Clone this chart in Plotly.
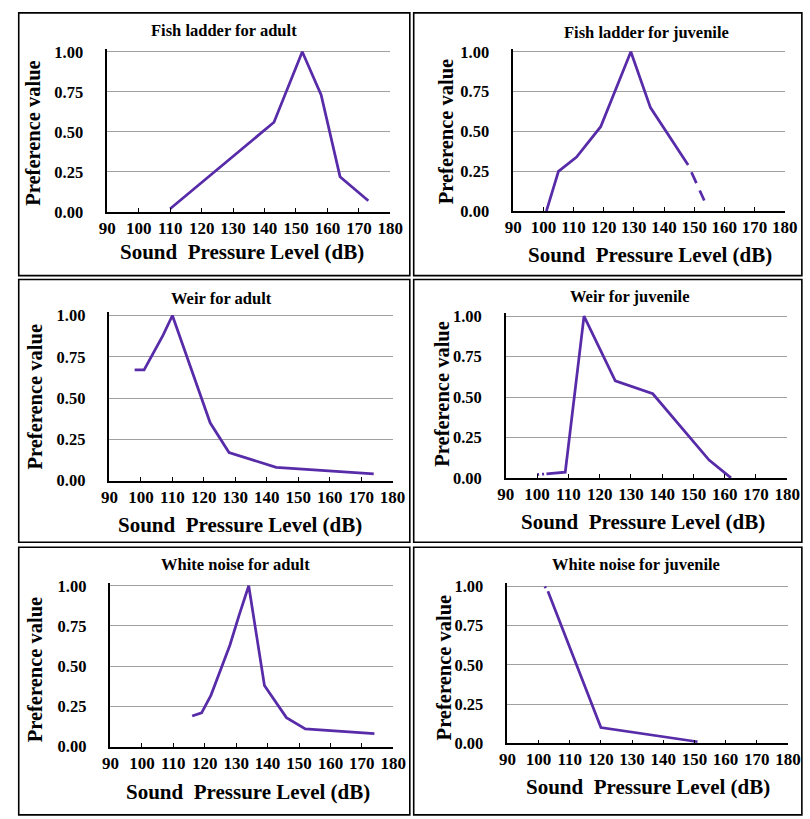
import plotly.graph_objects as go

# ---- data: sound pressure level (dB) vs preference value ----
fl_adult_x = [110, 143, 152, 158, 164, 173]
fl_adult_y = [0.02, 0.56, 1.00, 0.73, 0.22, 0.07]

fl_juv_x = [101, 105, 111, 119, 129, 135.5, 148]
fl_juv_y = [0.00, 0.25, 0.34, 0.53, 1.00, 0.65, 0.29]
fl_juv_dash_x = [148, 154]
fl_juv_dash_y = [0.29, 0.04]

weir_adult_x = [98, 101, 107, 110, 122, 128, 143, 174]
weir_adult_y = [0.67, 0.67, 0.88, 1.00, 0.35, 0.17, 0.08, 0.04]

weir_juv_dot_x = [100, 103]
weir_juv_dot_y = [0.02, 0.025]
weir_juv_x = [103, 109, 115, 125, 137, 155, 162]
weir_juv_y = [0.025, 0.035, 1.00, 0.60, 0.52, 0.11, 0.00]

wn_adult_x = [116, 119, 122, 128, 131, 134, 139, 146, 152, 174]
wn_adult_y = [0.19, 0.21, 0.32, 0.63, 0.82, 1.00, 0.38, 0.18, 0.11, 0.08]

wn_juv_dot_x = [102, 103]
wn_juv_dot_y = [1.00, 0.97]
wn_juv_x = [103, 120, 151]
wn_juv_y = [0.97, 0.10, 0.01]

titles = ["Fish ladder for adult", "Fish ladder for juvenile",
          "Weir for adult", "Weir for juvenile",
          "White noise for adult", "White noise for juvenile"]
x_title = "Sound  Pressure Level (dB)"
y_title = "Preference value"
y_tickvals = [0, 0.25, 0.5, 0.75, 1.0]
y_ticktext = ["0.00", "0.25", "0.50", "0.75", "1.00"]

# ---- layout geometry (pixels) ----
W, H = 810, 819
LINE = "#582ca8"
FONT = "Liberation Serif"
YTOP = 1.02

# plot area: x-left, x-right, pixel of y=0, pixel of y=1
plots = [
    (101, 392, 210, 46.7),
    (518.3, 797.3, 209.3, 46.7),
    (103.3, 394.3, 484, 315.7),
    (510.7, 800, 481.3, 316.3),
    (104.3, 395, 755.3, 591.3),
    (512.3, 800.7, 752, 592),
]
# panel frames: x0, y0, x1, y1
frames = [
    (10, 7, 412, 275), (416, 7, 815, 275),
    (10, 279, 412, 547), (416, 279, 815, 547),
    (10, 552, 412, 825), (416, 552, 815, 825),
]
title_pos = [(221, 24.5), (655.5, 27.5), (218, 298), (637.5, 296.5), (233, 570), (644, 570)]
xtitle_pos = [(239, 250.5), (659.3, 254), (237.3, 529.5), (651.7, 526.3), (245.5, 802), (656.7, 796.3)]
ytitle_pos = [(25, 129), (449.5, 127.5), (27, 398), (445, 395.5), (27, 676.3), (447, 674.7)]

traces = [
    [(fl_adult_x, fl_adult_y, "solid")],
    [(fl_juv_x, fl_juv_y, "solid"), (fl_juv_dash_x, fl_juv_dash_y, "0px,8px,12px,8px,11px,30px")],
    [(weir_adult_x, weir_adult_y, "solid")],
    [(weir_juv_dot_x, weir_juv_dot_y, "2px,3px"), (weir_juv_x, weir_juv_y, "solid")],
    [(wn_adult_x, wn_adult_y, "solid")],
    [(wn_juv_dot_x, wn_juv_dot_y, "2px,4px"), (wn_juv_x, wn_juv_y, "solid")],
]

fig = go.Figure()
layout = dict(
    width=W, height=H,
    margin=dict(l=0, r=0, t=0, b=0),
    paper_bgcolor="white", plot_bgcolor="white",
    showlegend=False,
    font=dict(family=FONT, color="black"),
    shapes=[], annotations=[],
)

for i, (px0, px1, py0, py1) in enumerate(plots):
    n = i + 1
    xa = "xaxis" if n == 1 else f"xaxis{n}"
    ya = "yaxis" if n == 1 else f"yaxis{n}"
    xr = "x" if n == 1 else f"x{n}"
    yr = "y" if n == 1 else f"y{n}"
    scale = py0 - py1
    top_px = py0 - YTOP * scale
    layout[xa] = dict(
        domain=[px0 / W, px1 / W], anchor=yr, range=[90, 180], dtick=10, tick0=90,
        showline=True, linecolor="black", linewidth=1.5,
        ticks="inside", ticklen=4, tickwidth=1, tickcolor="black",
        showgrid=False, zeroline=False, fixedrange=True,
        tickfont=dict(family=FONT, size=17, weight="bold", color="black"),
        ticklabelstandoff=0,
    )
    layout[ya] = dict(
        domain=[1 - py0 / H, 1 - top_px / H], anchor=xr, range=[0, YTOP],
        tickvals=y_tickvals, ticktext=y_ticktext,
        showline=True, linecolor="black", linewidth=1.5,
        ticks="", showgrid=True, gridcolor="#a0a0a0", gridwidth=0.8,
        zeroline=False, fixedrange=True,
        tickfont=dict(family=FONT, size=16.5, weight="bold", color="black"),
        ticklabelstandoff=19,
    )
    for xs, ys, dash in traces[i]:
        fig.add_trace(go.Scatter(
            x=xs, y=ys, mode="lines", xaxis=xr, yaxis=yr,
            line=dict(color=LINE, width=2.75, dash=dash),
            hoverinfo="skip",
        ))

    fx0, fy0, fx1, fy1 = frames[i]
    layout["shapes"].append(dict(
        type="rect", xref="paper", yref="paper",
        x0=fx0 / W, x1=fx1 / W, y0=1 - fy1 / H, y1=1 - fy0 / H,
        line=dict(color="black", width=1.6), fillcolor="rgba(0,0,0,0)", layer="above",
    ))
    tx, ty = title_pos[i]
    layout["annotations"].append(dict(
        text=titles[i], xref="paper", yref="paper", x=tx / W, y=1 - ty / H,
        xanchor="center", yanchor="middle", showarrow=False,
        font=dict(family=FONT, size=16.5, weight="bold", color="black"),
    ))
    ax_, ay_ = xtitle_pos[i]
    layout["annotations"].append(dict(
        text=x_title, xref="paper", yref="paper", x=ax_ / W, y=1 - ay_ / H,
        xanchor="center", yanchor="middle", showarrow=False,
        font=dict(family=FONT, size=21, weight="bold", color="black"),
    ))
    bx, by = ytitle_pos[i]
    layout["annotations"].append(dict(
        text=y_title, xref="paper", yref="paper", x=bx / W, y=1 - by / H,
        xanchor="center", yanchor="middle", showarrow=False, textangle=-90,
        font=dict(family=FONT, size=20.5, weight="bold", color="black"),
    ))

fig.update_layout(**layout)
fig.write_html("out.html", config={"displayModeBar": False})
